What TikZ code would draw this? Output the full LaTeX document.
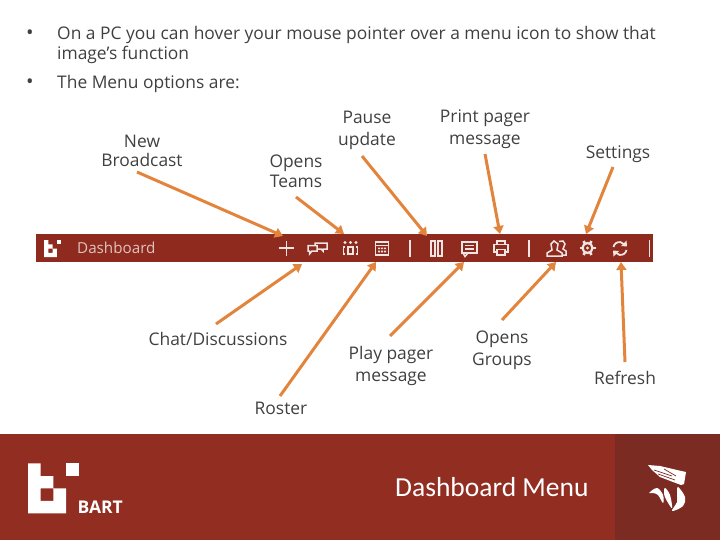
\documentclass[tikz,border=0pt]{standalone}
\usepackage{fontspec}
\setmainfont{Open Sans}
\newfontfamily\titlefont{Carlito}
\usepackage{xcolor}
\usetikzlibrary{arrows.meta,positioning}
\definecolor{barred}{HTML}{8E2A1E}
\definecolor{footred}{HTML}{922D21}
\definecolor{footdark}{HTML}{7C2B23}
\definecolor{pointer}{HTML}{E3843C}
\definecolor{bodygray}{HTML}{404040}
\colorlet{iconwhite}{white!88!barred}
\tikzset{
    lab/.style={font=\fontsize{17.4}{22}\selectfont, text=bodygray, align=center, inner sep=0pt},
    bullet/.style={font=\fontsize{17.4}{20}\selectfont, text=bodygray, anchor=base west, inner sep=0pt},
    callout/.style={draw=pointer, line width=3pt, -{Triangle[length=8pt,width=10pt]}},
    icon/.style={draw=iconwhite, line width=1.5pt},
    bartlogo/.pic={
        \fill[white, even odd rule] (0,0) -- (12.7,0) -- (12.7,12.7) -- (25.3,12.7) -- (25.3,25) -- (38,25) -- (38,50) -- (0,50) -- cycle
            (12.7,25) rectangle (25.3,37.5);
        \fill[white] (38,0) rectangle (51,12.7);
    }
}
\begin{document}
\begin{tikzpicture}[x=1pt,y=-1pt]
    \useasboundingbox (0,0) rectangle (720,540);
    % text at the top
    \node[bullet, font=\fontsize{20}{20}\selectfont] (dotone) at (26,40) {•};
    \node[bullet] (lineone) at (57,40) {On a PC you can hover your mouse pointer over a menu icon to show that};
    \node[bullet] (linetwo) at (57,60) {image’s function};
    \node[bullet, font=\fontsize{20}{20}\selectfont] (dottwo) at (26,89) {•};
    \node[bullet] (linethree) at (57,89) {The Menu options are:};
    % menu bar
    \fill[barred] (36,234) rectangle (653,262);
    \pic[scale=0.34] at (44,240) {bartlogo};
    \node[anchor=base west, inner sep=0pt, text=white!72!barred, font=\fontsize{15.2}{18}\selectfont] (dash) at (77,254) {Dashboard};
    % plus, chat
    \draw[icon] (279,248) -- (294,248) (286.5,240.5) -- (286.5,255.5);
    \draw[icon] (308,245.5) -- (317,245.5) -- (317,251) -- (312,251) -- (309.5,254) -- (309.5,251) -- (308,251) -- cycle;
    \draw[icon] (317,249) -- (321,249) -- (323,251) -- (323,249) -- (327,249) -- (327,243) -- (315,243) -- (315,245.5);
    % teams
    \foreach \x in {345,350.5,356} {\fill[iconwhite] (\x,242.5) circle (1.7pt);}
    \draw[icon] (345,254) -- (343.5,254) -- (343.5,247) -- (345,247) (356,254) -- (357.5,254) -- (357.5,247) -- (356,247);
    \draw[icon] (348,247) rectangle (353,254);
    % calendar
    \draw[icon, line width=1.2pt] (375.5,242) rectangle (388.5,255) (375.5,245.5) -- (388.5,245.5);
    \foreach \x in {378,381,384} {\fill[iconwhite] (\x,247.5) rectangle +(2,1.7) (\x,250.7) rectangle +(2,1.7);}
    \draw[icon, line width=1.2pt] (378,240.5) -- (378,242) (386,240.5) -- (386,242);
    % separators and pause
    \draw[icon] (410,240) -- (410,257) (529,240) -- (529,257) (649.5,240) -- (649.5,257);
    \draw[icon, line width=1.4pt] (431,241) rectangle (435,256) (438,241) rectangle (442,256);
    % message
    \draw[icon] (462,242) rectangle (477,253);
    \draw[icon] (463,253) -- (465,256.5) -- (468,253);
    \draw[icon, line width=1.1pt] (465,245.5) -- (474,245.5) (465,249) -- (474,249);
    % printer
    \draw[icon] (497,244) -- (497,241) -- (505,241) -- (505,244);
    \draw[icon] (496,252) -- (494,252) -- (494,244.5) -- (508,244.5) -- (508,252) -- (506,252);
    \draw[icon] (497,249.5) rectangle (505,255);
    % groups
    \draw[icon] (547,256) -- (547,253) -- (552,250) -- (551,244) -- (554,241) -- (558,244) -- (557,250) -- (562,253) -- (562,256) -- cycle;
    \draw[icon] (559,241.5) -- (563,241) -- (565,244) -- (563,249) -- (566,251) -- (566,255) -- (563,255);
    % settings
    \draw[icon, line width=2.2pt] (587.5,248) circle (5pt);
    \fill[iconwhite] (587.5,248) circle (1.7pt);
    \foreach \a in {0,60,...,300} {\draw[iconwhite, line width=2.6pt] (587.5,248) ++(\a:5.5pt) -- ++(\a:2.5pt);}
    % refresh
    \draw[icon, line width=1.8pt] (613.5,247) arc[start angle=170, end angle=40, radius=6pt];
    \draw[icon, line width=1.8pt] (626.5,250) arc[start angle=-10, end angle=-140, radius=6pt];
    \fill[iconwhite] (626.5,240.5) -- (627,246.5) -- (621,246) -- cycle (613.5,256.5) -- (613,250.5) -- (619,251) -- cycle;
    % footer
    \fill[footred] (0,434) rectangle (615,540);
    \fill[footdark] (615,434) rectangle (720,540);
    \pic at (28,463.3) {bartlogo};
    \node[anchor=base west, inner sep=0pt, text=white, font=\bfseries\fontsize{17.5}{18}\selectfont] (bart) at (77.5,513) {BART};
    \node[anchor=base west, inner sep=0pt, text=white, font=\titlefont\fontsize{27.5}{32}\selectfont] (title) at (395,496) {Dashboard Menu};
    % bird
    \fill[white] (648,465) -- (660,466) -- (677,470) -- (686,472) -- (684,484) -- (681,485) -- (673,482) -- (660,477) -- (652,470) -- cycle;
    \draw[footdark, line width=0.7pt] (654,470) -- (672,476) (658,474) -- (675,480) (664,469) -- (676,476);
    \fill[white] plot[smooth cycle, tension=0.6] coordinates {(678,487) (685,497) (683,506) (672,511) (677,502) (677,494)};
    \fill[white] plot[smooth cycle, tension=0.6] coordinates {(665,488) (670,495) (672,508) (667,501) (664,494)};
    \fill[white] plot[smooth cycle, tension=0.6] coordinates {(649,493) (657,488) (663,495) (663,503) (658,495) (653,493)};
    % labels
    \node[lab, font=\fontsize{17.4}{19.5}\selectfont] (newb) at (142,151) {New\\Broadcast};
    \node[lab, font=\fontsize{17.4}{19.5}\selectfont] (teams) at (296,171.5) {Opens\\Teams};
    \node[lab] (pause) at (367,130) {Pause\\update};
    \node[lab] (print) at (485,129) {Print pager\\message};
    \node[lab] (settings) at (618,154) {Settings};
    \node[lab] (chat) at (218,339) {Chat/Discussions};
    \node[lab] (play) at (391,366) {Play pager\\message};
    \node[lab] (groups) at (502,350) {Opens\\Groups};
    \node[lab] (refresh) at (625,378) {Refresh};
    \node[lab] (roster) at (281,408) {Roster};
    % where the arrows start and end
    \foreach \n/\p in {tnew/{137,172},ttea/{296,197},tpau/{362,156},tpri/{485,154},tset/{613,167},tcha/{216,324},tpla/{390,336},tgro/{502,320},tref/{625,362},tros/{280,396},
            hnew/{283,236},htea/{344,234},hpau/{427,236},hpri/{500,234},hset/{586,234},hcha/{302,264},hpla/{464,262},hgro/{556,262},href/{621,262},hros/{376,262}} {
            \coordinate (\n) at (\p);
        }
    \foreach \a/\b in {tnew/hnew,ttea/htea,tpau/hpau,tpri/hpri,tset/hset,tcha/hcha,tpla/hpla,tgro/hgro,tref/href,tros/hros} {
            \draw[callout] (\a) -- (\b);
        }
\end{tikzpicture}
\end{document}
